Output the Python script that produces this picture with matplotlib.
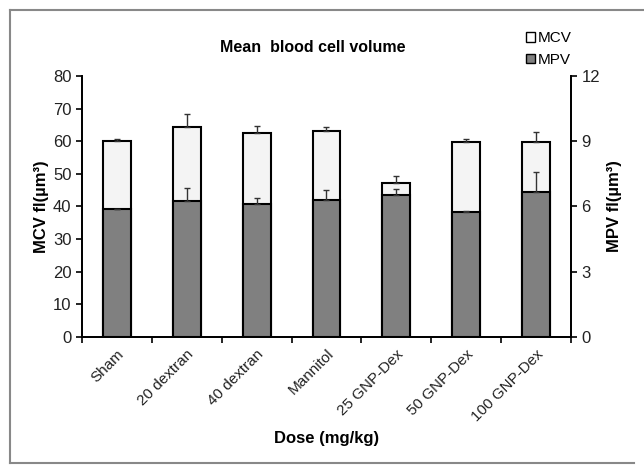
import matplotlib
matplotlib.use('Agg')
import matplotlib.pyplot as plt
import numpy as np
from matplotlib.lines import Line2D

plt.rcParams['font.family'] = ['Liberation Sans', 'DejaVu Sans']

groups = ['Sham', '20 dextran', '40 dextran', 'Mannitol',
          '25 GNP-Dex', '50 GNP-Dex', '100 GNP-Dex']
mcv = [60.1, 64.5, 62.5, 63.0, 47.2, 59.7, 59.7]
mcv_err = [0.7, 3.8, 2.3, 1.3, 2.2, 0.9, 3.0]
mpv = [5.87, 6.23, 6.1, 6.32, 6.52, 5.73, 6.65]
mpv_err = [0.0, 0.6, 0.29, 0.42, 0.3, 0.08, 0.95]

x = np.arange(len(groups))
w = 0.4

fig = plt.figure(figsize=(6.44, 4.74), dpi=100)
ax = fig.add_axes([0.1273, 0.289, 0.7593, 0.5507])
ax2 = ax.twinx()

ax.bar(x, mcv, w, color='#f4f4f4', edgecolor='black', linewidth=1.5, zorder=2)
ax.errorbar(x, mcv, yerr=[np.zeros(len(x)), mcv_err], fmt='none',
            ecolor='#333333', elinewidth=1, capsize=2.5, capthick=1, zorder=3)
ax2.bar(x, mpv, w, color='#808080', edgecolor='black', linewidth=1.5, zorder=2)
ax2.errorbar(x, mpv, yerr=[np.zeros(len(x)), mpv_err], fmt='none',
             ecolor='#333333', elinewidth=1, capsize=2.5, capthick=1, zorder=3)

ax.set_xlim(-0.5, len(groups) - 0.5)
ax.set_ylim(0, 80)
ax2.set_ylim(0, 12)
ax.set_yticks(range(0, 81, 10))
ax2.set_yticks([0, 3, 6, 9, 12])

ax.set_xticks(x)
ax.set_xticklabels(groups, rotation=45, ha='right', rotation_mode='anchor',
                   fontsize=11, color='#222222')
ax.set_xticks(np.arange(-0.5, len(groups)), minor=True)
ax.tick_params(axis='x', which='major', length=0, pad=7)
ax.tick_params(axis='x', which='minor', length=4, width=1.2, direction='out')
ax.tick_params(axis='y', length=4, width=1.2, direction='out', labelsize=12,
               labelcolor='#222222')
ax2.tick_params(axis='y', length=4, width=1.2, direction='out', labelsize=12,
                labelcolor='#222222')

for a in (ax, ax2):
    a.spines['top'].set_visible(False)
    for s in ('left', 'right', 'bottom'):
        a.spines[s].set_linewidth(1.3)

ax.set_ylabel('MCV fl(µm³)', fontsize=12, fontweight='bold', labelpad=3)
ax2.set_ylabel('MPV fl(µm³)', fontsize=12, fontweight='bold', labelpad=5)
ax.set_xlabel('Dose (mg/kg)', fontsize=12, fontweight='bold', labelpad=5)

fig.text(0.486, 0.9, 'Mean  blood cell volume', ha='center', va='center',
         fontsize=11.5, fontweight='bold')

handles = [plt.Rectangle((0, 0), 1, 1, facecolor='white', edgecolor='black', linewidth=1),
           plt.Rectangle((0, 0), 1, 1, facecolor='#808080', edgecolor='black', linewidth=1)]
fig.legend(handles, ['MCV', 'MPV'], loc='upper left', bbox_to_anchor=(0.805, 0.95),
           frameon=False, fontsize=11, handlelength=0.6, handleheight=0.6,
           handletextpad=0.15, labelspacing=0.5, borderpad=0)

# outer frame
fr = dict(color='#888888', linewidth=1.5, transform=fig.transFigure)
fig.add_artist(Line2D([10 / 644, 10 / 644], [1 - 10 / 474, 1 - 463 / 474], **fr))
fig.add_artist(Line2D([10 / 644, 1], [1 - 10 / 474, 1 - 10 / 474], **fr))
fig.add_artist(Line2D([10 / 644, 634 / 644], [1 - 463 / 474, 1 - 463 / 474], **fr))

fig.savefig('out.png', dpi=100)
